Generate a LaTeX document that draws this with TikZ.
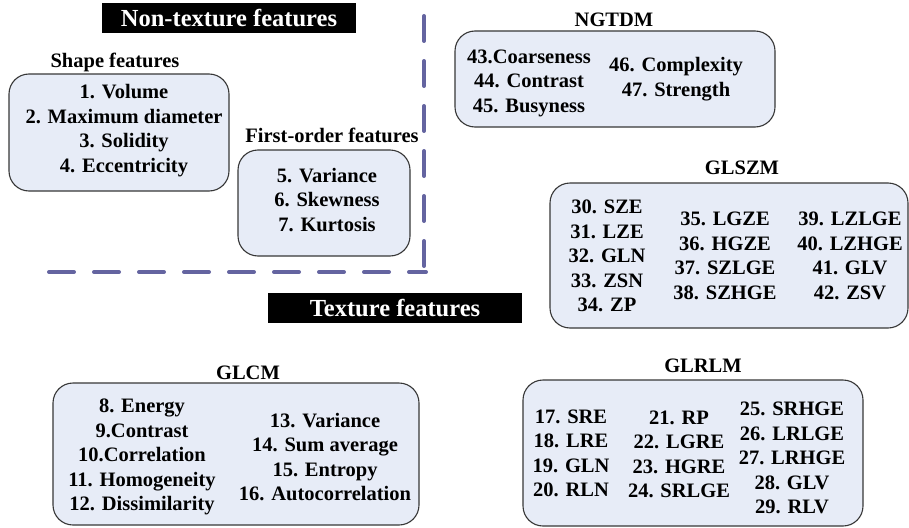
\documentclass[tikz,border=0pt]{standalone}
\usepackage{fontspec}
\setmainfont{Liberation Serif}
\definecolor{boxfill}{RGB}{231,236,247}
\definecolor{boxline}{RGB}{55,55,55}
\definecolor{dashcol}{RGB}{100,100,160}
\begin{document}
\begin{tikzpicture}[x=1pt,y=-1pt,
  feat/.style={draw=boxline, line width=1.1pt, fill=boxfill, rounded corners=20pt, inner sep=0pt},
  lines/.style={font=\fontsize{20.5}{24.5}\selectfont\bfseries, align=center, inner sep=0pt},
  grouplabel/.style={font=\fontsize{20.5}{24.5}\selectfont\bfseries, inner sep=0pt},
  banner/.style={fill=black, text=white, font=\fontsize{24.5}{28}\selectfont\bfseries, inner sep=0pt, minimum width=254pt, minimum height=30pt},
  divider/.style={draw=dashcol, line width=4pt, line cap=round, dash pattern=on 25pt off 20pt}]
\useasboundingbox (0,0) rectangle (909,527);
\clip (0,0) rectangle (909,527);

% banners
\node[banner] (nontex) at (229,18) {Non-texture features};
\node[banner] (tex) at (395,308) {Texture features};

% dashed divider
\coordinate (dtop) at (424,16);
\coordinate (dbot) at (424,266);
\coordinate (hleft) at (49,272);
\coordinate (hright) at (426,272);
\draw[divider] (dtop) -- (dbot);
\draw[divider] (hleft) -- (hright);

% Shape features
\node[grouplabel] (shapelab) at (115,62) {Shape features};
\node[feat, minimum width=220pt, minimum height=117pt] (shapebox) at (119,132.5) {};
\node[lines] (shapetxt) at (124,130.5) {1. Volume\\2. Maximum diameter\\3. Solidity\\4. Eccentricity};

% First-order features
\node[grouplabel] (firstlab) at (332,135) {First-order features};
\node[feat, minimum width=172pt, minimum height=106pt] (firstbox) at (324,203) {};
\node[lines] (firsttxt) at (327,200) {5. Variance\\6. Skewness\\7. Kurtosis};

% NGTDM
\node[grouplabel] (ngtdmlab) at (614,20) {NGTDM};
\node[feat, minimum width=320pt, minimum height=96pt] (ngtdmbox) at (615,79) {};
\node[lines] (ngtdma) at (529,83) {43.Coarseness\\44. Contrast\\45. Busyness};
\node[lines] (ngtdmb) at (676,79) {46. Complexity\\47. Strength};

% GLSZM
\node[grouplabel] (glszmlab) at (742,168) {GLSZM};
\node[feat, minimum width=358pt, minimum height=145pt] (glszmbox) at (729,255.5) {};
\node[lines] (glszma) at (607,256) {30. SZE\\31. LZE\\32. GLN\\33. ZSN\\34. ZP};
\node[lines] (glszmb) at (725,256) {35. LGZE\\36. HGZE\\37. SZLGE\\38. SZHGE};
\node[lines] (glszmc) at (850,256) {39. LZLGE\\40. LZHGE\\41. GLV\\42. ZSV};

% GLCM
\node[grouplabel] (glcmlab) at (248,373) {GLCM};
\node[feat, minimum width=366pt, minimum height=142pt] (glcmbox) at (236,454) {};
\node[lines] (glcma) at (142,457) {8. Energy\\9.Contrast\\10.Correlation\\11. Homogeneity\\12. Dissimilarity};
\node[lines] (glcmb) at (325,457) {13. Variance\\14. Sum average\\15. Entropy\\16. Autocorrelation};

% GLRLM
\node[grouplabel] (glrlmlab) at (703,366) {GLRLM};
\node[feat, minimum width=340pt, minimum height=146pt] (glrlmbox) at (693,453) {};
\node[lines] (glrlma) at (571,453.5) {17. SRE\\18. LRE\\19. GLN\\20. RLN};
\node[lines] (glrlmb) at (679,454.5) {21. RP\\22. LGRE\\23. HGRE\\24. SRLGE};
\node[lines] (glrlmc) at (792,458) {25. SRHGE\\26. LRLGE\\27. LRHGE\\28. GLV\\29. RLV};
\end{tikzpicture}
\end{document}
